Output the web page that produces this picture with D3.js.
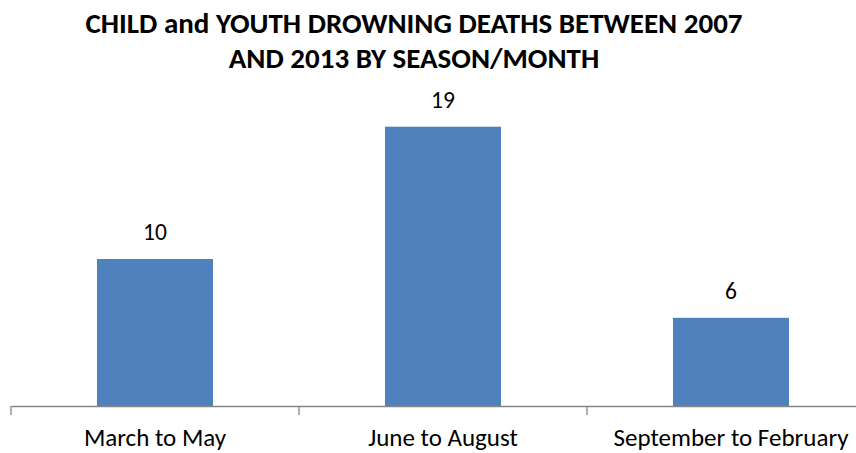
<!DOCTYPE html>
<html>
<head>
<meta charset="utf-8">
<script src="https://cdn.jsdelivr.net/npm/d3@7"></script>
<style>
  html, body { margin: 0; padding: 0; background: #fff; }
  svg { display: block; }
  text { font-family: Carlito, Lato, "Open Sans", sans-serif; }
</style>
</head>
<body>
<svg id="chart" width="856" height="453"></svg>
<script>
const titleLines = ["CHILD and YOUTH DROWNING DEATHS BETWEEN 2007", "AND 2013 BY SEASON/MONTH"];
const categories = ["March to May", "June to August", "September to February"];
const values = [10, 19, 6];
const yDomain = [0, 20];

const svg = d3.select("#chart");
const left = 11, right = 875, axisY = 406, topY = 112;

const x = d3.scaleBand().domain(categories).range([left, right])
  .paddingInner(0.597).paddingOuter(0.2985);
const xCell = d3.scaleBand().domain(categories).range([left, right]).padding(0);
const y = d3.scaleLinear().domain(yDomain).range([axisY, topY]);

// title
const title = svg.append("text")
  .attr("text-anchor", "middle")
  .attr("font-weight", "bold")
  .attr("font-size", 29)
  .attr("fill", "#000");
titleLines.forEach((t, i) => {
  title.append("tspan").attr("x", 414).attr("y", 33 + i * 35).text(t);
});

// bars
svg.append("g").selectAll("rect").data(categories).join("rect")
  .attr("x", d => x(d))
  .attr("y", (d, i) => y(values[i]))
  .attr("width", x.bandwidth())
  .attr("height", (d, i) => y(0) - y(values[i]))
  .attr("fill", "#4F81BD");

// data labels
svg.append("g").selectAll("text").data(categories).join("text")
  .attr("x", d => x(d) + x.bandwidth() / 2)
  .attr("y", (d, i) => y(values[i]) - 19)
  .attr("text-anchor", "middle")
  .attr("font-size", 23.5)
  .attr("fill", "#000")
  .text((d, i) => values[i]);

// x axis
const axis = d3.axisBottom(x).tickSize(0).tickPadding(0);
const gx = svg.append("g").attr("transform", `translate(0,${axisY})`).call(axis);
gx.select(".domain").attr("stroke", "#868686").attr("stroke-width", 1.3);
gx.selectAll(".tick text")
  .attr("font-size", 25).attr("fill", "#000")
  .attr("dy", null).attr("y", 40)
  .attr("font-family", "Carlito, Lato, 'Open Sans', sans-serif");
// boundary ticks between categories
const bounds = categories.map(c => xCell(c)).concat([right]);
gx.append("g").selectAll("line").data(bounds).join("line")
  .attr("x1", d => d).attr("x2", d => d)
  .attr("y1", 0).attr("y2", 9)
  .attr("stroke", "#868686").attr("stroke-width", 1.3);
</script>
</body>
</html>
